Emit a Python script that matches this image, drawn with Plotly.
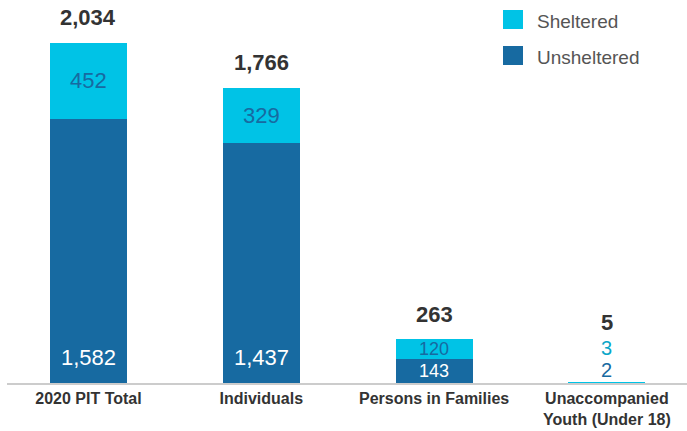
import plotly.graph_objects as go

categories = ["2020 PIT Total", "Individuals", "Persons in Families",
              "Unaccompanied Youth (Under 18)"]
tick_labels = ["2020 PIT Total", "Individuals", "Persons in Families",
               "Unaccompanied<br>Youth (Under 18)"]
unsheltered = [1582, 1437, 143, 2]
sheltered = [452, 329, 120, 3]
totals = [2034, 1766, 263, 5]

C_SH = "#00c3e6"
C_UN = "#176aa1"
FONT = "Liberation Sans"

W, H = 687, 431
L, R, T, B = 7, 0, 20, 48
plot_w = W - L - R
plot_h = H - T - B
ymax = max(totals) * 1.0676
ppu = plot_h / ymax

fig = go.Figure()
fig.add_trace(go.Bar(name="Unsheltered", x=categories, y=unsheltered,
                     marker=dict(color=C_UN, line=dict(width=0)),
                     width=0.4456, hoverinfo="x+y+name"))
fig.add_trace(go.Bar(name="Sheltered", x=categories, y=sheltered,
                     marker=dict(color=C_SH, line=dict(width=0)),
                     width=0.4456, hoverinfo="x+y+name"))

ann = []
for i, cat in enumerate(categories):
    hu = unsheltered[i] * ppu
    hs = sheltered[i] * ppu
    if hu >= 20 and hs >= 18:
        fs = 22 if min(hu, hs) >= 30 else 18
        ann.append(dict(x=cat, y=0, yanchor="middle", yshift=min(26, hu / 2),
                        text=f"{unsheltered[i]:,}", showarrow=False,
                        font=dict(family=FONT, size=fs, color="white")))
        ann.append(dict(x=cat, y=unsheltered[i] + sheltered[i] / 2, yanchor="middle",
                        text=f"{sheltered[i]:,}", showarrow=False,
                        font=dict(family=FONT, size=fs, color=C_UN)))
        ann.append(dict(x=cat, y=totals[i], yanchor="middle", yshift=25,
                        text=f"<b>{totals[i]:,}</b>", showarrow=False,
                        font=dict(family=FONT, size=22, color="#333333")))
    else:
        ann.append(dict(x=cat, y=totals[i], yanchor="middle", yshift=12,
                        text=f"{unsheltered[i]:,}", showarrow=False,
                        font=dict(family=FONT, size=20, color=C_UN)))
        ann.append(dict(x=cat, y=totals[i], yanchor="middle", yshift=34,
                        text=f"{sheltered[i]:,}", showarrow=False,
                        font=dict(family=FONT, size=20, color="#0aa6c8")))
        ann.append(dict(x=cat, y=totals[i], yanchor="middle", yshift=60,
                        text=f"<b>{totals[i]:,}</b>", showarrow=False,
                        font=dict(family=FONT, size=22, color="#333333")))

def px_x(px):
    return (px - L) / plot_w

def px_y(py):
    return (H - B - py) / plot_h

shapes = []
for (y0, y1, col, name, yc) in [(10, 29, C_SH, "Sheltered", 22),
                                (46, 65, C_UN, "Unsheltered", 58)]:
    shapes.append(dict(type="rect", xref="paper", yref="paper",
                       x0=px_x(503), x1=px_x(523), y0=px_y(y1), y1=px_y(y0),
                       fillcolor=col, line=dict(width=0)))
    ann.append(dict(xref="paper", yref="paper", x=px_x(535), y=px_y(yc),
                    xanchor="left", yanchor="middle", text=name, showarrow=False,
                    font=dict(family=FONT, size=19, color="#555555")))

fig.update_layout(
    barmode="stack",
    width=W, height=H,
    margin=dict(l=L, r=R, t=T, b=B),
    paper_bgcolor="white", plot_bgcolor="white",
    showlegend=False,
    annotations=ann,
    shapes=shapes,
    xaxis=dict(type="category", categoryorder="array", categoryarray=categories,
               range=[-0.4716, 3.4635], tickvals=categories, ticktext=tick_labels,
               showline=True, linecolor="#cccccc", linewidth=1.5, ticks="",
               showgrid=False, zeroline=False,
               tickfont=dict(family=FONT, size=16, color="#333333", weight="bold")),
    yaxis=dict(range=[0, ymax], visible=False, showgrid=False, zeroline=False),
    font=dict(family=FONT),
)

fig.write_html("out.html", config={"displayModeBar": False},
               post_script="document.body.style.margin='0';document.body.style.overflow='hidden';")
